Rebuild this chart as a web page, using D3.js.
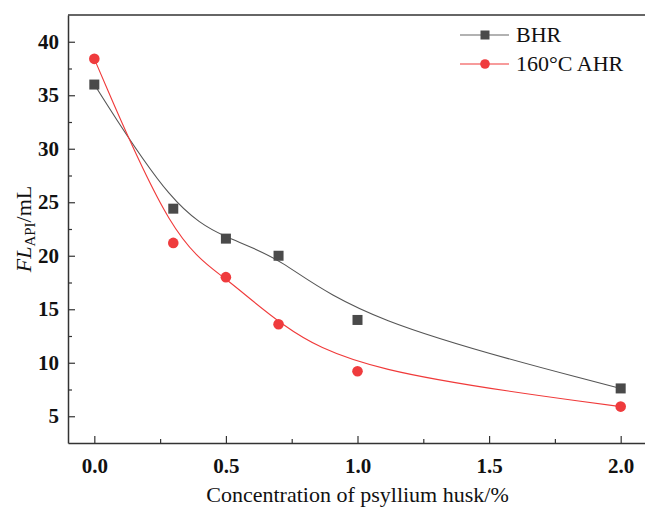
<!DOCTYPE html>
<html>
<head>
<meta charset="utf-8">
<script src="https://cdn.jsdelivr.net/npm/d3@7"></script>
<style>
  html, body { margin: 0; padding: 0; background: #fff; }
  svg { display: block; }
  svg text { font-family: "Liberation Serif", "Times New Roman", Times, "DejaVu Serif", serif; }
</style>
</head>
<body>
<svg id="chart" width="645" height="507"></svg>
<script>
// Psyllium husk concentration (%) and API filtrate loss (mL)
const concentration = [0, 0.3, 0.5, 0.7, 1.0, 2.0];
const bhrValues = [36.0, 24.4, 21.6, 20.0, 14.0, 7.6];
const ahrValues = [38.4, 21.2, 18.0, 13.6, 9.2, 5.9];
const seriesNames = ["BHR", "160°C AHR"];
const xTickValues = [0.0, 0.5, 1.0, 1.5, 2.0];
const yTickValues = [5, 10, 15, 20, 25, 30, 35, 40];

const FONT = "'Liberation Serif', 'Times New Roman', Times, serif";
const svg = d3.select("#chart");
const plotLeft = 68, plotRight = 647, plotTop = 15, plotBottom = 443;

const x = d3.scaleLinear().domain([-0.1, 2.1]).range([plotLeft, plotRight]);
const y = d3.scaleLinear().domain([2.5, 42.5]).range([plotBottom, plotTop]);

const axisColor = "#333";

// frame: top and right borders
svg.append("line").attr("x1", plotLeft).attr("x2", plotRight).attr("y1", plotTop).attr("y2", plotTop)
  .attr("stroke", axisColor).attr("stroke-width", 1.5);
svg.append("line").attr("x1", plotRight).attr("x2", plotRight).attr("y1", plotTop).attr("y2", plotBottom)
  .attr("stroke", axisColor).attr("stroke-width", 1.5);

// x axis with inward ticks
const xAxis = svg.append("g").attr("transform", `translate(0,${plotBottom})`)
  .call(d3.axisBottom(x).tickValues(xTickValues).tickFormat(d3.format(".1f"))
    .tickSizeInner(-7).tickSizeOuter(0).tickPadding(15));
xAxis.attr("font-family", FONT);
xAxis.select(".domain").attr("stroke", axisColor).attr("stroke-width", 1.5);
xAxis.selectAll(".tick line").attr("stroke", axisColor).attr("stroke-width", 1.2);
xAxis.selectAll(".tick text").attr("font-size", 21).attr("font-weight", "bold")
  .attr("fill", "#111").style("font-family", FONT);
svg.append("g").attr("transform", `translate(0,${plotBottom})`)
  .call(d3.axisBottom(x).tickValues([0.25, 0.75, 1.25, 1.75]).tickFormat("")
    .tickSizeInner(-4).tickSizeOuter(0))
  .call(g => g.select(".domain").remove())
  .selectAll(".tick line").attr("stroke", axisColor).attr("stroke-width", 1.2);

// y axis with inward ticks
const yAxis = svg.append("g").attr("transform", `translate(${plotLeft},0)`)
  .call(d3.axisLeft(y).tickValues(yTickValues)
    .tickSizeInner(-7).tickSizeOuter(0).tickPadding(9));
yAxis.attr("font-family", FONT);
yAxis.select(".domain").attr("stroke", axisColor).attr("stroke-width", 1.5);
yAxis.selectAll(".tick line").attr("stroke", axisColor).attr("stroke-width", 1.2);
yAxis.selectAll(".tick text").attr("font-size", 21).attr("font-weight", "bold")
  .attr("fill", "#111").style("font-family", FONT);
svg.append("g").attr("transform", `translate(${plotLeft},0)`)
  .call(d3.axisLeft(y).tickValues([7.5, 12.5, 17.5, 22.5, 27.5, 32.5, 37.5]).tickFormat("")
    .tickSizeInner(-4).tickSizeOuter(0))
  .call(g => g.select(".domain").remove())
  .selectAll(".tick line").attr("stroke", axisColor).attr("stroke-width", 1.2);

// axis titles
svg.append("text").attr("x", (plotLeft + plotRight) / 2).attr("y", 502)
  .attr("text-anchor", "middle").attr("font-size", 22).attr("fill", "#111")
  .style("font-family", FONT)
  .text("Concentration of psyllium husk/%");

const yTitle = svg.append("text")
  .attr("transform", `translate(31,${(plotTop + plotBottom) / 2}) rotate(-90)`)
  .attr("text-anchor", "middle").attr("font-size", 22).attr("fill", "#111")
  .style("font-family", FONT);
yTitle.append("tspan").attr("font-style", "italic").text("FL");
yTitle.append("tspan").attr("font-size", 15).attr("dy", 4).text("API");
yTitle.append("tspan").attr("dy", -4).text("/mL");

// series
const series = [
  { name: seriesNames[0], values: bhrValues, line: "#555", legendLine: "#999", fill: "#4a4a4a", shape: "square" },
  { name: seriesNames[1], values: ahrValues, line: "#f03a3a", legendLine: "#f47a7a", fill: "#ef3b3d", shape: "circle" }
];

const line = d3.line().x(d => x(d[0])).y(d => y(d[1])).curve(d3.curveBasis);

series.forEach(s => {
  const pts = concentration.map((c, i) => [c, s.values[i]]);
  svg.append("path").datum(pts).attr("d", line)
    .attr("fill", "none").attr("stroke", s.line).attr("stroke-width", 1.1);
  if (s.shape === "square") {
    svg.selectAll(null).data(pts).enter().append("rect")
      .attr("x", d => x(d[0]) - 5).attr("y", d => y(d[1]) - 5)
      .attr("width", 10).attr("height", 10).attr("fill", s.fill);
  } else {
    svg.selectAll(null).data(pts).enter().append("circle")
      .attr("cx", d => x(d[0])).attr("cy", d => y(d[1])).attr("r", 5.3)
      .attr("fill", s.fill);
  }
});

// legend
const legend = svg.append("g");
series.forEach((s, i) => {
  const ly = 35 + i * 29;
  legend.append("line").attr("x1", 460).attr("x2", 509).attr("y1", ly).attr("y2", ly)
    .attr("stroke", s.legendLine).attr("stroke-width", 1.4);
  if (s.shape === "square") {
    legend.append("rect").attr("x", 485 - 4.5).attr("y", ly - 4.5)
      .attr("width", 9).attr("height", 9).attr("fill", s.fill);
  } else {
    legend.append("circle").attr("cx", 485).attr("cy", ly).attr("r", 4.8).attr("fill", s.fill);
  }
  legend.append("text").attr("x", 516).attr("y", ly + 7)
    .attr("font-size", 22).attr("fill", "#111").style("font-family", FONT).text(s.name);
});
</script>
</body>
</html>
